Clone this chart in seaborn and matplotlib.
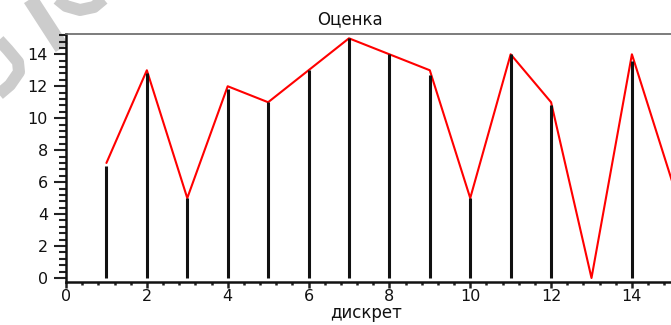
import numpy as np
import pandas as pd
import matplotlib
matplotlib.use("Agg")
import matplotlib.pyplot as plt
import seaborn as sns
from matplotlib.ticker import MultipleLocator

# data
disc = [1, 2, 3, 4, 5, 6, 7, 8, 9, 10, 11, 12, 13, 14, 15]
estimate = [7.2, 13, 5, 12, 11, 13, 15, 14, 13, 5, 14, 11, 0, 14, 6]
stem_x = [1, 2, 3, 4, 5, 6, 7, 8, 9, 10, 11, 12, 13, 14]
stem_y = [7, 12.8, 5, 11.8, 11, 13, 15, 14, 12.7, 5, 14, 10.8, 0, 13.6]
title_text = "Оценка"
xlabel_text = "дискрет"

sns.set_style("white")
plt.rcParams['font.family'] = ['DejaVu Sans']

W, H = 671, 325
fig = plt.figure(figsize=(W / 100, H / 100), dpi=100)

# background layer for the watermark strokes (pixel coordinates)
bg = fig.add_axes([0, 0, 1, 1], zorder=-1)
bg.set_xlim(0, W)
bg.set_ylim(H, 0)
bg.axis("off")

def wm(points, lw_px):
    xs = [p[0] for p in points]
    ys = [p[1] for p in points]
    bg.plot(xs, ys, color="#cccccc", linewidth=lw_px * 0.72,
            solid_capstyle="butt", solid_joinstyle="round")

wm([(29, -3), (62, 48)], 15)
wm([(-3, 38), (8, 50), (18, 62), (19, 72), (10, 85), (-3, 96)], 12)
wm([(55, -3), (66, 6), (80, 10), (94, 7), (106, -3)], 12)

ax = fig.add_axes([66 / W, (H - 282) / H, (W - 66) / W + 0.002, (282 - 34) / H])
ax.patch.set_alpha(0)

df = pd.DataFrame({"x": disc, "y": estimate})
sns.lineplot(data=df, x="x", y="y", ax=ax, color="#ff0000", linewidth=1.5, zorder=2)
ax.vlines(stem_x, 0, stem_y, colors="#111111", linewidth=2.2, zorder=3)

ax.set_xlim(0, 15)
ax.set_ylim(-0.25, 15.27)
ax.xaxis.set_major_locator(MultipleLocator(2))
ax.xaxis.set_minor_locator(MultipleLocator(0.4))
ax.yaxis.set_major_locator(MultipleLocator(2))
ax.yaxis.set_minor_locator(MultipleLocator(0.4))

ax.tick_params(which="both", bottom=True, left=True, top=False, right=False)
ax.tick_params(axis="y", which="major", direction="out", length=9, width=1.5,
               color="#222222", labelsize=11.5, pad=4, labelcolor="#111111")
ax.tick_params(axis="y", which="minor", direction="out", length=5, width=1.5,
               color="#222222")
ax.tick_params(axis="x", which="major", direction="out", length=4, width=1.8,
               color="#222222", labelsize=11.5, pad=1, labelcolor="#111111")
ax.tick_params(axis="x", which="minor", direction="out", length=2.5, width=1.8,
               color="#222222")

ax.spines["left"].set_linewidth(1.8)
ax.spines["left"].set_color("#111111")
ax.spines["bottom"].set_linewidth(1.8)
ax.spines["bottom"].set_color("#111111")
ax.spines["top"].set_linewidth(1.2)
ax.spines["top"].set_color("#666666")
ax.spines["right"].set_visible(False)

ax.set_xlabel("")
ax.set_ylabel("")
fig.text(366 / W, 1 - 313 / H, xlabel_text, ha="center", va="center",
         fontsize=12, color="#111111")
fig.text(350 / W, 1 - 19 / H, title_text, ha="center", va="center",
         fontsize=12, color="#111111")

fig.savefig("out.png", dpi=100)
